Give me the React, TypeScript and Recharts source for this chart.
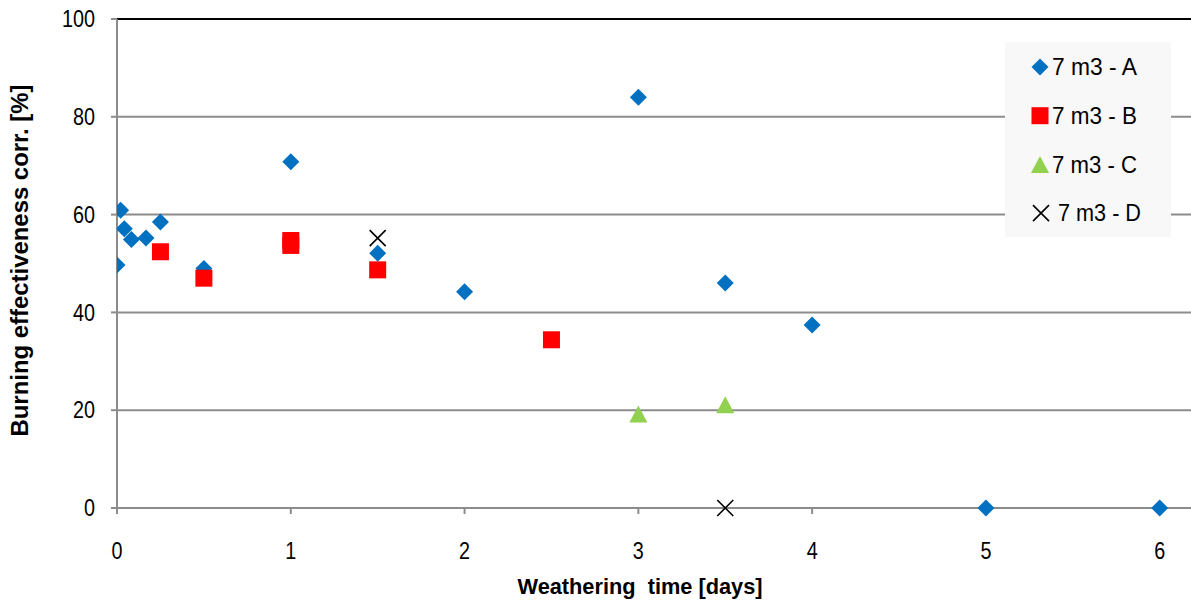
import { CartesianGrid, ReferenceLine, Scatter, ScatterChart, XAxis, YAxis } from "recharts";

// Weathering time [days] vs burning effectiveness corr. [%]
const seriesA = [
  { x: 0, y: 49.7 },
  { x: 0.021, y: 60.9 },
  { x: 0.042, y: 57.1 },
  { x: 0.083, y: 54.9 },
  { x: 0.167, y: 55.2 },
  { x: 0.25, y: 58.5 },
  { x: 0.5, y: 49.0 },
  { x: 1, y: 70.8 },
  { x: 1.5, y: 52.1 },
  { x: 2, y: 44.2 },
  { x: 3, y: 84.0 },
  { x: 3.5, y: 46.0 },
  { x: 4, y: 37.4 },
  { x: 5, y: 0 },
  { x: 6, y: 0 },
];

const seriesB = [
  { x: 0.25, y: 52.4 },
  { x: 0.5, y: 47.0 },
  { x: 1, y: 54.7 },
  { x: 1, y: 53.7 },
  { x: 1.5, y: 48.7 },
  { x: 2.5, y: 34.4 },
];

const seriesC = [
  { x: 3, y: 19.2 },
  { x: 3.5, y: 21.1 },
];

const seriesD = [
  { x: 1.5, y: 55.2 },
  { x: 3.5, y: 0 },
];

const xTicks = [0, 1, 2, 3, 4, 5, 6];
const yTicks = [0, 20, 40, 60, 80, 100];

const BLUE = "#0070c0";
const RED = "#ff0000";
const GREEN = "#92d050";
const GRID = "#8c8c8c";
const FONT = "'Liberation Sans', Arial, sans-serif";

const Diamond = ({ cx, cy }: any) => (
  <path d={`M${cx},${cy - 8.5}L${cx + 8.5},${cy}L${cx},${cy + 8.5}L${cx - 8.5},${cy}Z`} fill={BLUE} />
);

const Square = ({ cx, cy }: any) => (
  <rect x={cx - 8.5} y={cy - 8.5} width={17} height={17} fill={RED} />
);

const Triangle = ({ cx, cy }: any) => (
  <path d={`M${cx},${cy - 8.5}L${cx + 9},${cy + 8.5}L${cx - 9},${cy + 8.5}Z`} fill={GREEN} />
);

const Cross = ({ cx, cy }: any) => (
  <path
    d={`M${cx - 8},${cy - 8}L${cx + 8},${cy + 8}M${cx + 8},${cy - 8}L${cx - 8},${cy + 8}`}
    stroke="#000"
    strokeWidth={1.6}
    fill="none"
  />
);

// narrow, tall digits like the original
const NarrowTick = ({ x, y, payload, textAnchor, dy }: any) => {
  const s = String(payload.value);
  return (
    <text
      x={x}
      y={y}
      dy={dy}
      textAnchor={textAnchor}
      fontFamily={FONT}
      fontSize={23}
      textLength={s.length * 11}
      lengthAdjust="spacingAndGlyphs"
      fill="#000"
    >
      {s}
    </text>
  );
};

const XTick = (props: any) => <NarrowTick {...props} textAnchor="middle" dy="0.71em" />;
const YTick = (props: any) => <NarrowTick {...props} textAnchor="end" dy="0.355em" />;

const legendItems = [
  { name: "7 m3 - A", Shape: Diamond },
  { name: "7 m3 - B", Shape: Square },
  { name: "7 m3 - C", Shape: Triangle },
  { name: "7 m3 - D", Shape: Cross },
];

const LegendBox = () => (
  <svg
    width={166}
    height={195}
    style={{ position: "absolute", left: 1005, top: 42, display: "block" }}
  >
    <rect x={0} y={0} width={166} height={195} fill="#f8f8f8" />
    {legendItems.map((item, i) => {
      const cy = 25 + i * 48.7;
      const isD = item.name.endsWith("D");
      return (
        <g key={item.name}>
          <item.Shape cx={isD ? 36 : 35} cy={cy} />
          <text
            x={isD ? 53 : 47}
            y={cy}
            dy="0.355em"
            fontFamily={FONT}
            fontSize={23}
            textLength={isD ? 83 : 85}
            lengthAdjust="spacingAndGlyphs"
            fill="#000"
          >
            {item.name}
          </text>
        </g>
      );
    })}
  </svg>
);

const YLabel = ({ viewBox }: any) => {
  const cx = 20;
  const cy = viewBox.y + viewBox.height / 2 - 3;
  return (
    <text
      x={cx}
      y={cy}
      transform={`rotate(-90, ${cx}, ${cy})`}
      textAnchor="middle"
      dominantBaseline="central"
      fontFamily={FONT}
      fontWeight="bold"
      fontSize={23}
      textLength={352}
      lengthAdjust="spacingAndGlyphs"
      fill="#000"
    >
      Burning effectiveness corr. [%]
    </text>
  );
};

const XLabel = () => (
  <text
    x={640}
    y={594}
    textAnchor="middle"
    fontFamily={FONT}
    fontWeight="bold"
    fontSize={22}
    textLength={245}
    lengthAdjust="spacingAndGlyphs"
    fill="#000"
  >
    {"Weathering\u00a0 time [days]"}
  </text>
);

export default function App() {
  return (
    <div style={{ position: "absolute", left: 0, top: 0, width: 1191, height: 605, background: "#fff" }}>
      <ScatterChart width={1191} height={605} margin={{ top: 19, right: 0, bottom: 0, left: 0 }}>
        <CartesianGrid vertical={false} stroke={GRID} strokeWidth={2} />
        <XAxis
          type="number"
          dataKey="x"
          domain={[0, 6.18]}
          ticks={xTicks}
          allowDataOverflow
          height={97}
          axisLine={{ stroke: GRID, strokeWidth: 2 }}
          tickLine={{ stroke: GRID, strokeWidth: 2 }}
          tickSize={6}
          tickMargin={29}
          tick={<XTick />}
          label={<XLabel />}
        />
        <YAxis
          type="number"
          dataKey="y"
          domain={[0, 100]}
          ticks={yTicks}
          width={117}
          axisLine={{ stroke: GRID, strokeWidth: 2 }}
          tickLine={{ stroke: GRID, strokeWidth: 2 }}
          tickSize={6}
          tickMargin={16}
          tick={<YTick />}
          label={<YLabel />}
        />
        <ReferenceLine y={100} stroke="#000" strokeWidth={2} />
        <Scatter name="7 m3 - A" data={seriesA} shape={<Diamond />} isAnimationActive={false} />
        <Scatter name="7 m3 - B" data={seriesB} shape={<Square />} isAnimationActive={false} />
        <Scatter name="7 m3 - C" data={seriesC} shape={<Triangle />} isAnimationActive={false} />
        <Scatter name="7 m3 - D" data={seriesD} shape={<Cross />} isAnimationActive={false} />
      </ScatterChart>
      <LegendBox />
    </div>
  );
}
